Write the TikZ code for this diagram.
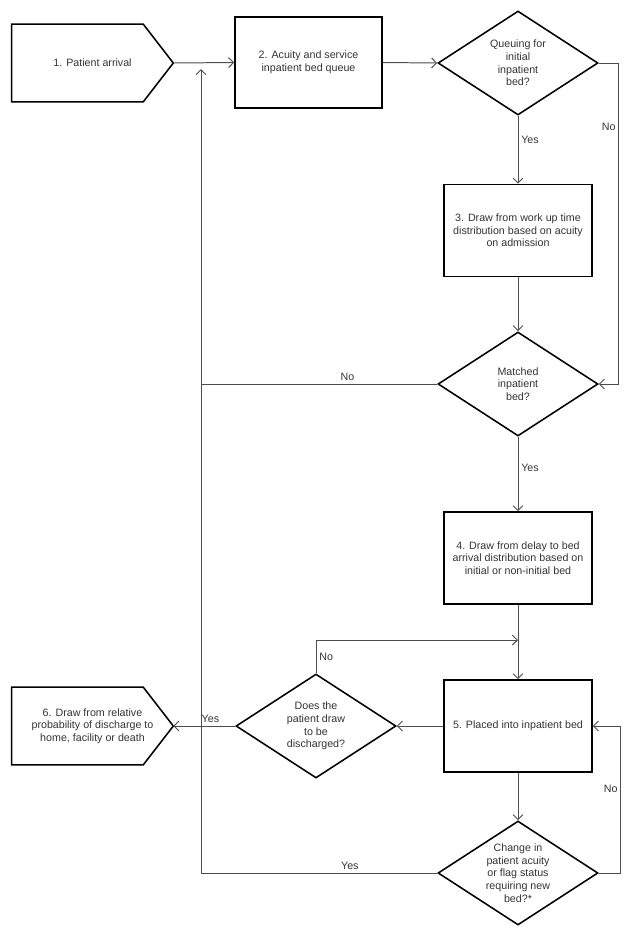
\documentclass[tikz,border=0pt]{standalone}
\usepackage{fontspec}
\setmainfont{Liberation Sans}
\usetikzlibrary{positioning, arrows.meta, shapes.geometric}

\begin{document}
\begin{tikzpicture}[
    x=0.025cm, y=-0.025cm,
    font=\fontsize{7.6}{9}\selectfont,
    box/.style={draw, line width=1.1pt, rectangle, minimum width=3.7cm, minimum height=2.3cm, align=center, inner sep=1pt, text=black!80},
    decision/.style={draw, line width=1.1pt, diamond, aspect=1.55, minimum width=4cm, minimum height=2.6cm, align=center, inner sep=0pt, text=black!80},
    terminal/.style={rectangle, minimum width=4.025cm, minimum height=1.925cm, align=center, inner sep=0pt, text=black!80},
    flow/.style={draw=black!70, line width=0.7pt, -{Straight Barb[length=3.5pt,width=7pt]}},
    link/.style={draw=black!70, line width=0.7pt},
    lbl/.style={text=black!80, inner sep=2pt}
  ]

  \useasboundingbox (0,0) rectangle (630,930);

  % Aufnahme und Warteschlange
  \node[terminal] (arrival) at (92.5, 63) {1. Patient arrival};
  \node[box, minimum width=3.675cm, minimum height=2.275cm] (queue) at (308.5, 62.5) {2. Acuity and service\\inpatient bed queue};
  \node[decision] (initial) at (518, 63) {Queuing for\\initial\\inpatient\\bed?};
  \node[box] (workup) at (518, 230.5) {3. Draw from work up time\\distribution based on acuity\\on admission};
  \node[decision] (matched) at (518, 384) {Matched\\inpatient\\bed?};
  \node[box] (delay) at (518, 558) {4. Draw from delay to bed\\arrival distribution based on\\initial or non-initial bed};

  % Bett und Entlassung
  \node[box] (placed) at (518, 726) {5. Placed into inpatient bed};
  \node[decision] (discharge) at (316, 726) {Does the\\patient draw\\to be\\discharged?};
  \node[terminal] (outcome) at (92.5, 726) {6. Draw from relative\\probability of discharge to\\home, facility or death};
  \node[decision] (change) at (518, 873) {Change in\\patient acuity\\or flag status\\requiring new\\bed?*};

  % Fuenfeck-Umrisse
  \draw[line width=1.1pt] (arrival.north west) -- ([xshift=-0.75cm]arrival.north east) -- (arrival.east)
    -- ([xshift=-0.75cm]arrival.south east) -- (arrival.south west) -- cycle;
  \draw[line width=1.1pt] (outcome.north west) -- ([xshift=-0.75cm]outcome.north east) -- (outcome.east)
    -- ([xshift=-0.75cm]outcome.south east) -- (outcome.south west) -- cycle;

  \coordinate (backin) at (201, 69);
  \coordinate (rejoin) at (518, 640);

  % Verbindungen
  \draw[flow] (arrival.east) -- (queue.west);
  \draw[flow] (queue.east) -- (initial.west);
  \draw[flow] (initial.south) -- node[lbl, right, pos=0.35] (yesA) {Yes} (workup.north);
  \draw[flow] (initial.east) -- ++(20,0) |- node[lbl, left, pos=0.1] (noA) {No} (matched.east);
  \draw[flow] (workup.south) -- (matched.north);
  \draw[link] (matched.west) -- node[lbl, above, pos=0.38] (noB) {No} (matched.west -| backin);
  \draw[flow] (change.west) -- node[lbl, above, pos=0.37] (yesD) {Yes} (change.west -| backin) -- (backin);
  \draw[flow] (matched.south) -- node[lbl, right, pos=0.42] (yesB) {Yes} (delay.north);
  \draw[flow] (delay.south) -- (placed.north);
  \draw[flow] (placed.west) -- (discharge.east);
  \draw[flow] (discharge.west) -- node[lbl, above, pos=0.4] (yesC) {Yes} (outcome.east);
  \draw[flow] (discharge.north) -- node[lbl, right] (noC) {No} (discharge.north |- rejoin) -- (rejoin);
  \draw[flow] (placed.south) -- (change.north);
  \draw[flow] (change.east) -- ++(22,0) |- node[lbl, left, pos=0.285] (noD) {No} (placed.east);

\end{tikzpicture}
\end{document}
